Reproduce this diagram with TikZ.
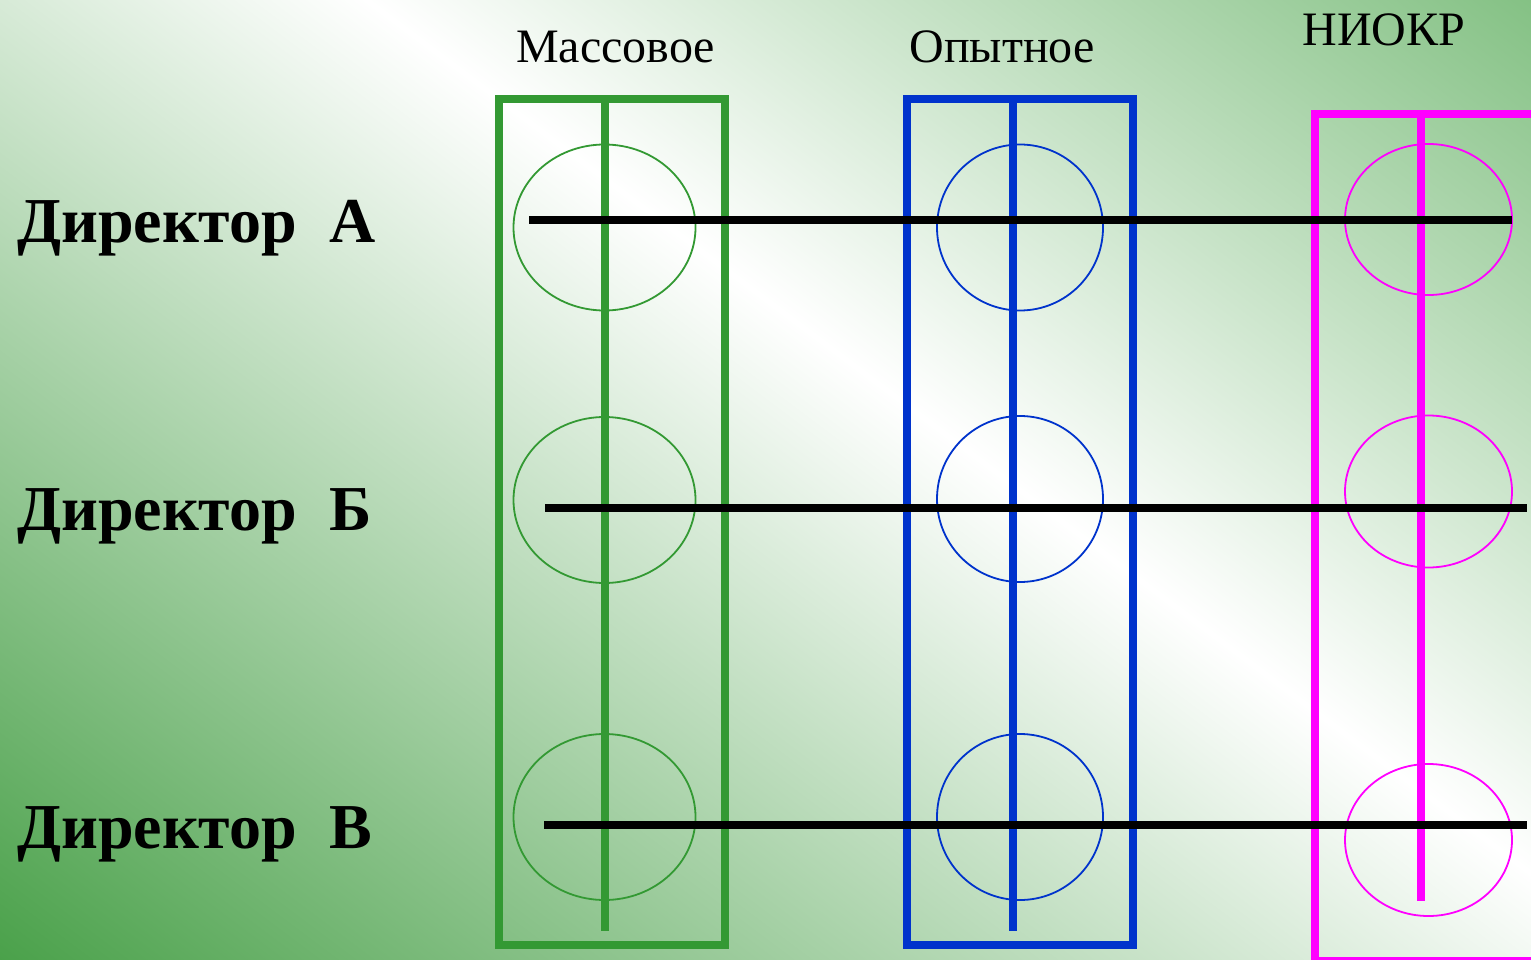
\documentclass[tikz,border=0pt]{standalone}
\usepackage{fontspec}
\setmainfont{Liberation Serif}
\definecolor{mgreen}{RGB}{51,153,51}
\definecolor{mblue}{RGB}{0,51,204}
\definecolor{mmag}{RGB}{255,0,255}
\definecolor{bgdark}{RGB}{72,160,72}
\definecolor{bgtr}{RGB}{118,186,118}
\begin{document}
\begin{tikzpicture}[x=1pt,y=-1pt,
  frame/.style={line width=8pt},
  axisline/.style={line width=8pt},
  circ/.style={line width=1.8pt},
  link/.style={line width=8pt, black},
  dirlabel/.style={anchor=base west, inner sep=0pt, font=\bfseries\fontsize{64}{76}\selectfont},
  collabel/.style={anchor=base, inner sep=0pt, font=\fontsize{48}{58}\selectfont}]
\useasboundingbox (0,0) rectangle (1531,960);
\begin{scope}
\clip (0,0) rectangle (1531,960);
\begin{scope}[transform canvas={shift={(820pt,-340pt)},rotate=53.13}]
  \shade[left color=bgdark, right color=white] (-1000pt,-2000pt) rectangle (0pt,2000pt);
  \shade[left color=white, right color=bgtr] (0pt,-2000pt) rectangle (780pt,2000pt);
  \fill[bgtr] (780pt,-2000pt) rectangle (1200pt,2000pt);
\end{scope}
% column frames
\draw[frame, mgreen] (499,99) rectangle (725,945);
\draw[frame, mblue] (907,99) rectangle (1133,945);
\draw[frame, mmag] (1315,114) rectangle (1545,961);
% circles
\draw[circ, mgreen] (604.5,227.5) ellipse [x radius=91, y radius=83];
\draw[circ, mgreen] (604.5,500) ellipse [x radius=91, y radius=83];
\draw[circ, mgreen] (604.5,817) ellipse [x radius=91, y radius=83];
\draw[circ, mblue] (1020,227.5) ellipse [x radius=83, y radius=83];
\draw[circ, mblue] (1020,499) ellipse [x radius=83, y radius=83];
\draw[circ, mblue] (1020,817) ellipse [x radius=83, y radius=83];
\draw[circ, mmag] (1428.5,219.5) ellipse [x radius=83.5, y radius=75.5];
\draw[circ, mmag] (1428.5,491.5) ellipse [x radius=83.5, y radius=76];
\draw[circ, mmag] (1428.5,840) ellipse [x radius=83.5, y radius=76];
% vertical axes
\draw[axisline, mgreen] (605,99) -- (605,931);
\draw[axisline, mblue] (1013,99) -- (1013,931);
\draw[axisline, mmag] (1421,114) -- (1421,901);
% director links
\coordinate (aS) at (529,220); \coordinate (aE) at (1512,220);
\coordinate (bS) at (545,508); \coordinate (bE) at (1527,508);
\coordinate (cS) at (544,825); \coordinate (cE) at (1527,825);
\draw[link] (aS) -- (aE);
\draw[link] (bS) -- (bE);
\draw[link] (cS) -- (cE);
\end{scope}
% labels
\node[collabel] (mass) at (615.5,63) {Массовое};
\node[collabel] (opyt) at (1002,63) {Опытное};
\node[collabel] (niokr) at (1384,46) {НИОКР};
\node[dirlabel] (dirA) at (17,243) {Директор\ \ А};
\node[dirlabel] (dirB) at (17,530) {Директор\ \ Б};
\node[dirlabel] (dirV) at (17,848) {Директор\ \ В};
\end{tikzpicture}
\end{document}
